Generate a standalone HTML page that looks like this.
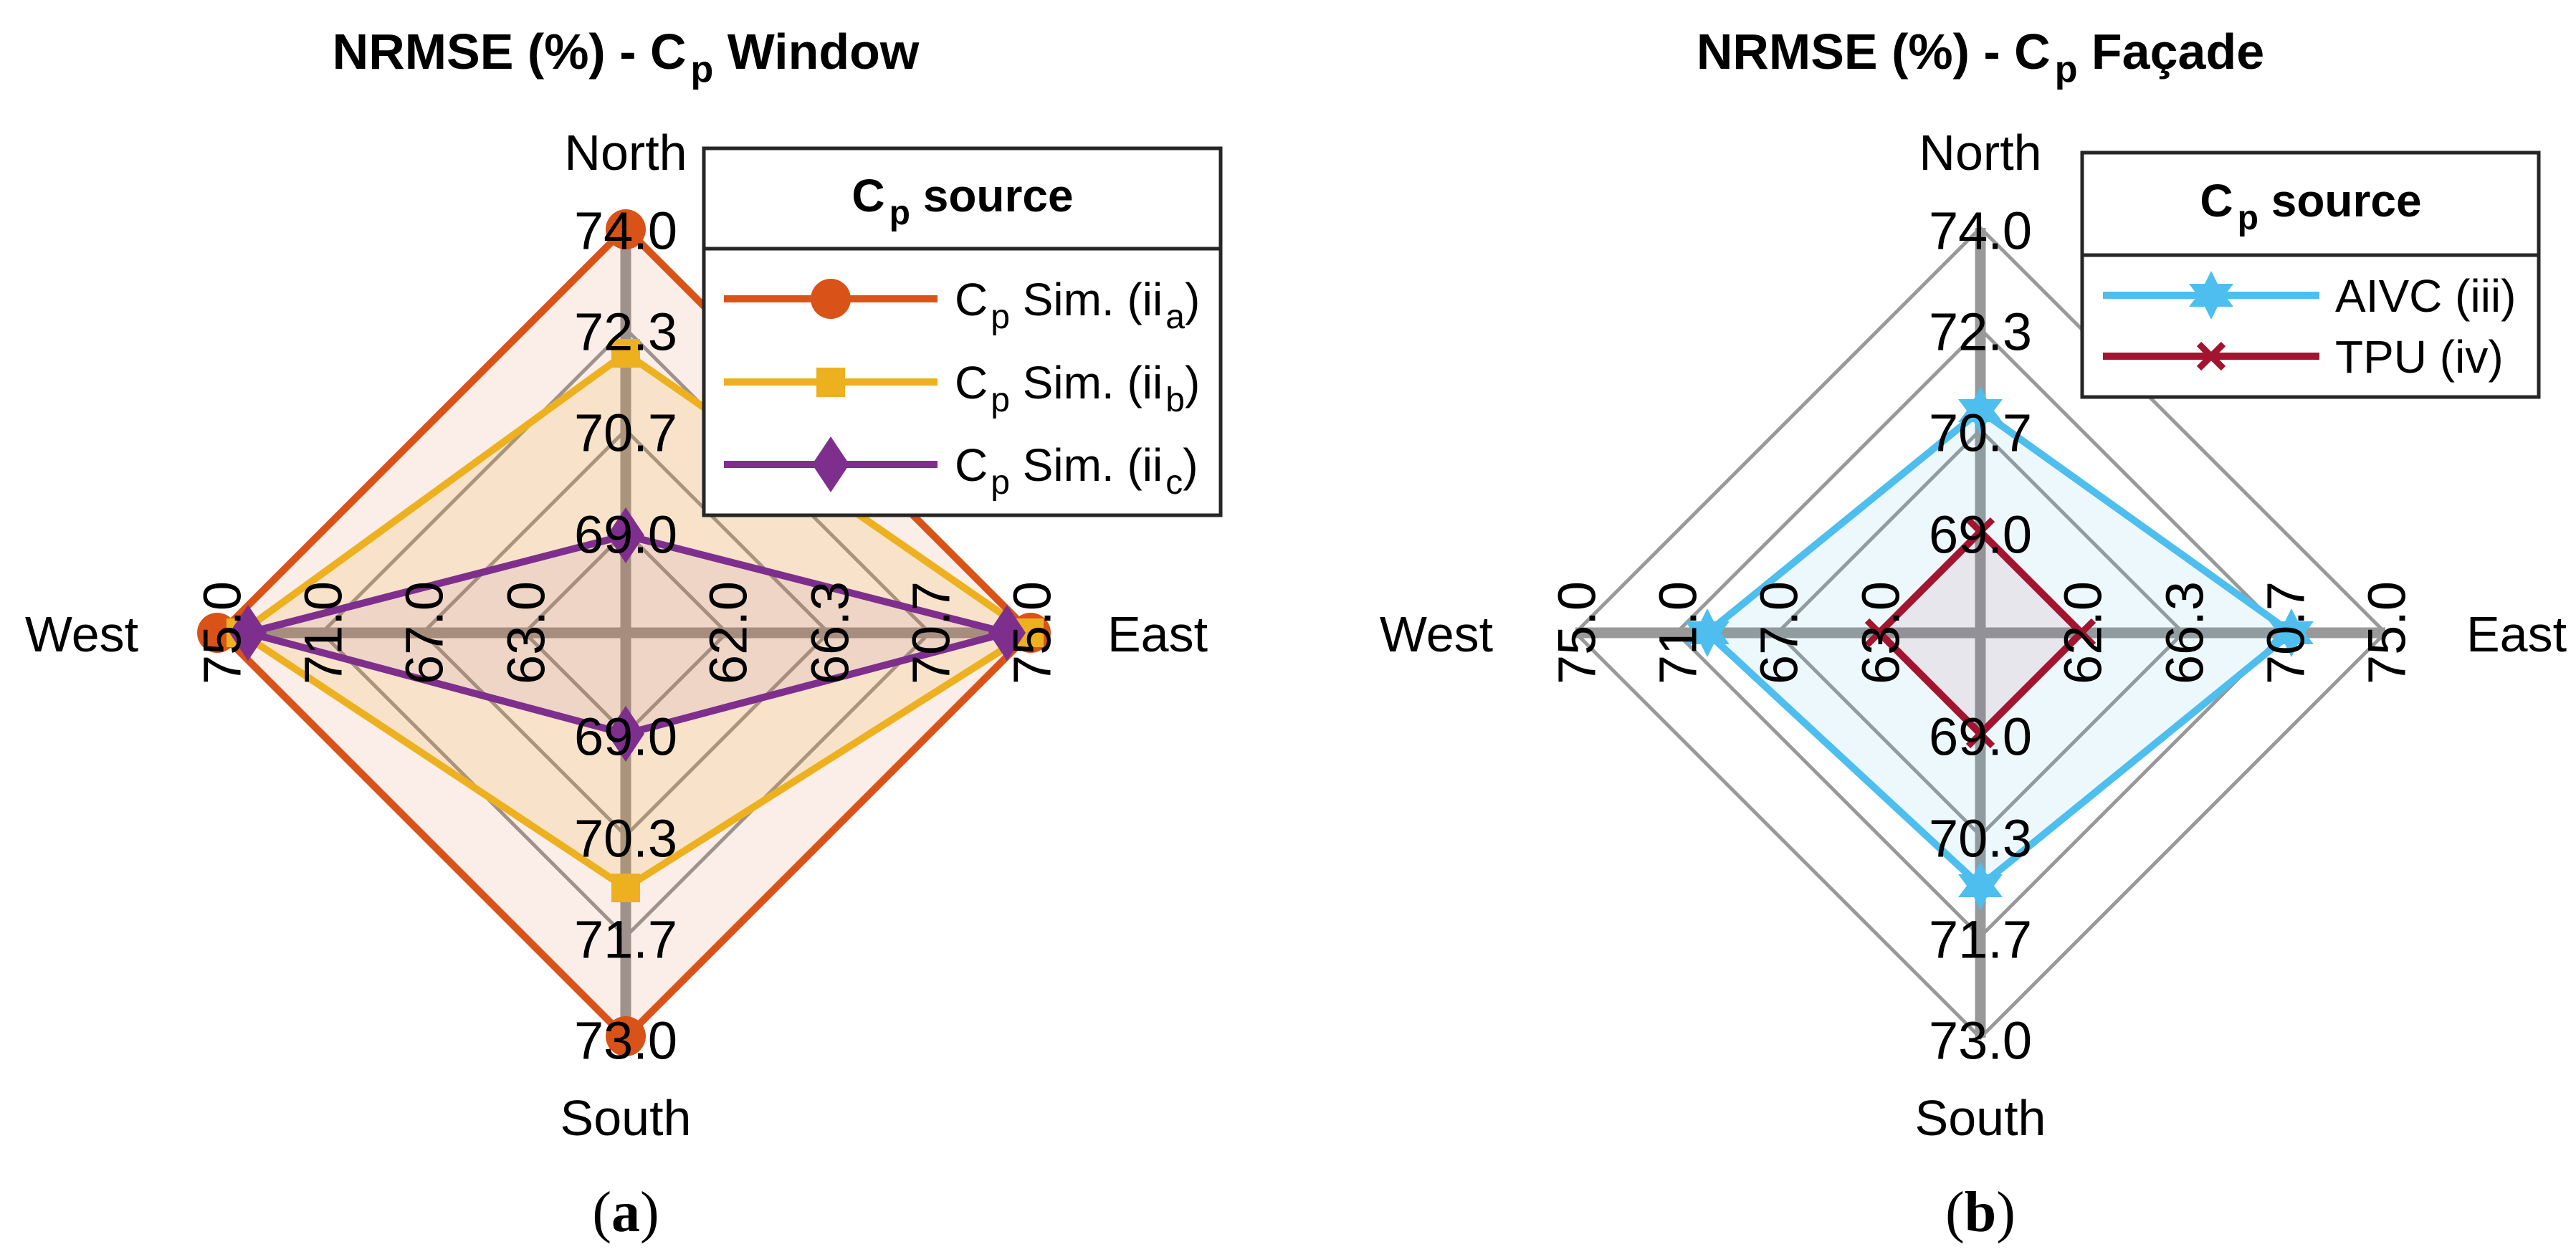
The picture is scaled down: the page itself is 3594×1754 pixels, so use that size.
<!DOCTYPE html>
<html><head><meta charset="utf-8"><style>
html,body{margin:0;padding:0;background:#fff}
svg{display:block}
text{font-family:"Liberation Sans",Arial,sans-serif;fill:#000}
.t{font-size:74px;text-anchor:middle;dominant-baseline:central}
.d{font-size:70px;text-anchor:middle;dominant-baseline:central}
.ti{font-size:70px;font-weight:bold;text-anchor:middle}
.lg{font-size:64px}
.cap{font-family:"Liberation Serif",serif;font-size:80px;text-anchor:middle}
</style></head><body>
<svg width="3594" height="1754" viewBox="0 0 3594 1754" xmlns="http://www.w3.org/2000/svg">
<g>
<g fill="none" stroke="#999" stroke-width="5">
<polygon points="873,318 1438,883 873,1448 308,883"/>
<polygon points="873,459 1297,883 873,1307 449,883"/>
<polygon points="873,600 1156,883 873,1166 590,883"/>
<polygon points="873,742 1014,883 873,1024 732,883"/>
</g>
<line x1="873" y1="318" x2="873" y2="1448" stroke="#999" stroke-width="15"/>
<line x1="308" y1="883" x2="1438" y2="883" stroke="#999" stroke-width="15"/>
<polygon points="873,318 1438,883 873,1448 308,883" fill="#D95319" fill-opacity="0.1"/>
<polygon points="873,493 1436,883 873,1239 336,883" fill="#EDB120" fill-opacity="0.15"/>
<polygon points="873,747 1405,883 873,1024 346,883" fill="#7E2F8E" fill-opacity="0.08"/>
<polygon points="873,318 1438,883 873,1448 308,883" fill="none" stroke="#D95319" stroke-width="10"/>
<polygon points="873,493 1436,883 873,1239 336,883" fill="none" stroke="#EDB120" stroke-width="10"/>
<polygon points="873,747 1405,883 873,1024 346,883" fill="none" stroke="#7E2F8E" stroke-width="10"/>
<g fill="#D95319"><circle cx="873" cy="320" r="28"/><circle cx="1438" cy="883" r="28"/><circle cx="873" cy="1446" r="28"/><circle cx="303" cy="883" r="28"/></g>
<g fill="#EDB120"><rect x="853" y="473" width="40" height="40"/><rect x="1416" y="863" width="40" height="40"/><rect x="853" y="1219" width="40" height="40"/><rect x="316" y="863" width="40" height="40"/></g>
<g fill="#7E2F8E">
<polygon points="873,708 899,747 873,786 847,747"/>
<polygon points="1405,844 1431,883 1405,922 1379,883"/>
<polygon points="873,985 899,1024 873,1063 847,1024"/>
<polygon points="346,844 372,883 346,922 320,883"/>
</g>
<text class="t" x="873" y="322">74.0</text>
<text class="t" x="873" y="463">72.3</text>
<text class="t" x="873" y="604">70.7</text>
<text class="t" x="873" y="746">69.0</text>
<text class="t" x="873" y="1028">69.0</text>
<text class="t" x="873" y="1170">70.3</text>
<text class="t" x="873" y="1311">71.7</text>
<text class="t" x="873" y="1452">73.0</text>
<text class="t" transform="translate(310,883) rotate(-90)">75.0</text>
<text class="t" transform="translate(451,883) rotate(-90)">71.0</text>
<text class="t" transform="translate(592,883) rotate(-90)">67.0</text>
<text class="t" transform="translate(734,883) rotate(-90)">63.0</text>
<text class="t" transform="translate(1016,883) rotate(-90)">62.0</text>
<text class="t" transform="translate(1158,883) rotate(-90)">66.3</text>
<text class="t" transform="translate(1299,883) rotate(-90)">70.7</text>
<text class="t" transform="translate(1440,883) rotate(-90)">75.0</text>
<text class="d" x="873" y="213">North</text>
<text class="d" x="873" y="1560">South</text>
<text class="d" x="114" y="885">West</text>
<text class="d" x="1615" y="885">East</text>
<text class="ti" x="873" y="96">NRMSE (%) - C<tspan font-size="52" dx="6" dy="18">p</tspan><tspan dy="-18"> Window</tspan></text>
<rect x="982" y="207" width="721" height="512" fill="#fff" stroke="#262626" stroke-width="5"/>
<line x1="982" y1="347" x2="1703" y2="347" stroke="#262626" stroke-width="5"/>
<text x="1343" y="295" font-size="64" font-weight="bold" text-anchor="middle">C<tspan font-size="48" dx="6" dy="18">p</tspan><tspan dy="-18"> source</tspan></text>
<line x1="1010" y1="417" x2="1308" y2="417" stroke="#D95319" stroke-width="10"/>
<circle cx="1159" cy="417" r="28" fill="#D95319"/>
<line x1="1010" y1="533" x2="1308" y2="533" stroke="#EDB120" stroke-width="10"/>
<rect x="1139" y="513" width="40" height="41" fill="#EDB120"/>
<line x1="1010" y1="648" x2="1308" y2="648" stroke="#7E2F8E" stroke-width="10"/>
<polygon points="1159,609 1185,648 1159,687 1133,648" fill="#7E2F8E"/>
<text class="lg" x="1332" y="440">C<tspan font-size="48" dx="4" dy="18">p</tspan><tspan dy="-18"> Sim. (ii</tspan><tspan font-size="48" dx="4" dy="18">a</tspan><tspan dy="-18">)</tspan></text>
<text class="lg" x="1332" y="556">C<tspan font-size="48" dx="4" dy="18">p</tspan><tspan dy="-18"> Sim. (ii</tspan><tspan font-size="48" dx="4" dy="18">b</tspan><tspan dy="-18">)</tspan></text>
<text class="lg" x="1332" y="671">C<tspan font-size="48" dx="4" dy="18">p</tspan><tspan dy="-18"> Sim. (ii</tspan><tspan font-size="48" dx="4" dy="18">c</tspan><tspan dy="-18">)</tspan></text>
<text class="cap" x="873" y="1718">(<tspan font-weight="bold">a</tspan>)</text>
</g>

<g>
<g fill="none" stroke="#999" stroke-width="5">
<polygon points="2763,318 3328,883 2763,1448 2198,883"/>
<polygon points="2763,459 3187,883 2763,1307 2339,883"/>
<polygon points="2763,600 3046,883 2763,1166 2480,883"/>
<polygon points="2763,742 2904,883 2763,1024 2622,883"/>
</g>
<line x1="2763" y1="318" x2="2763" y2="1448" stroke="#999" stroke-width="15"/>
<line x1="2198" y1="883" x2="3328" y2="883" stroke="#999" stroke-width="15"/>
<polygon points="2763,573 3197,883 2763,1236 2382,883" fill="#4DBEEE" fill-opacity="0.1"/>
<polygon points="2763,742 2904,883 2763,1024 2622,883" fill="#A2142F" fill-opacity="0.08"/>
<polygon points="2763,573 3197,883 2763,1236 2382,883" fill="none" stroke="#4DBEEE" stroke-width="10"/>
<polygon points="2763,742 2904,883 2763,1024 2622,883" fill="none" stroke="#A2142F" stroke-width="10"/>
<g fill="#4DBEEE">
<polygon transform="translate(2763,573)" points="0,-34 9,-16 31,-16 19,0 31,16 9,16 0,34 -9,16 -31,16 -19,0 -31,-16 -9,-16"/>
<polygon transform="translate(3197,883)" points="0,-34 9,-16 31,-16 19,0 31,16 9,16 0,34 -9,16 -31,16 -19,0 -31,-16 -9,-16"/>
<polygon transform="translate(2763,1236)" points="0,-34 9,-16 31,-16 19,0 31,16 9,16 0,34 -9,16 -31,16 -19,0 -31,-16 -9,-16"/>
<polygon transform="translate(2382,883)" points="0,-34 9,-16 31,-16 19,0 31,16 9,16 0,34 -9,16 -31,16 -19,0 -31,-16 -9,-16"/>
</g>
<g stroke="#A2142F" stroke-width="9">
<path d="M2746,725 l34,34 M2780,725 l-34,34"/>
<path d="M2887,866 l34,34 M2921,866 l-34,34"/>
<path d="M2746,1007 l34,34 M2780,1007 l-34,34"/>
<path d="M2605,866 l34,34 M2639,866 l-34,34"/>
</g>
<text class="t" x="2763" y="322">74.0</text>
<text class="t" x="2763" y="463">72.3</text>
<text class="t" x="2763" y="604">70.7</text>
<text class="t" x="2763" y="746">69.0</text>
<text class="t" x="2763" y="1028">69.0</text>
<text class="t" x="2763" y="1170">70.3</text>
<text class="t" x="2763" y="1311">71.7</text>
<text class="t" x="2763" y="1452">73.0</text>
<text class="t" transform="translate(2200,883) rotate(-90)">75.0</text>
<text class="t" transform="translate(2341,883) rotate(-90)">71.0</text>
<text class="t" transform="translate(2482,883) rotate(-90)">67.0</text>
<text class="t" transform="translate(2624,883) rotate(-90)">63.0</text>
<text class="t" transform="translate(2906,883) rotate(-90)">62.0</text>
<text class="t" transform="translate(3048,883) rotate(-90)">66.3</text>
<text class="t" transform="translate(3189,883) rotate(-90)">70.7</text>
<text class="t" transform="translate(3330,883) rotate(-90)">75.0</text>
<text class="d" x="2763" y="213">North</text>
<text class="d" x="2763" y="1560">South</text>
<text class="d" x="2004" y="885">West</text>
<text class="d" x="3511" y="885">East</text>
<text class="ti" x="2763" y="96">NRMSE (%) - C<tspan font-size="52" dx="6" dy="18">p</tspan><tspan dy="-18"> Façade</tspan></text>
<rect x="2905" y="213" width="637" height="341" fill="#fff" stroke="#262626" stroke-width="5"/>
<line x1="2905" y1="356" x2="3542" y2="356" stroke="#262626" stroke-width="5"/>
<text x="3224" y="302" font-size="64" font-weight="bold" text-anchor="middle">C<tspan font-size="48" dx="6" dy="18">p</tspan><tspan dy="-18"> source</tspan></text>
<line x1="2934" y1="412" x2="3236" y2="412" stroke="#4DBEEE" stroke-width="10"/>
<polygon transform="translate(3085,412)" points="0,-34 9,-16 31,-16 19,0 31,16 9,16 0,34 -9,16 -31,16 -19,0 -31,-16 -9,-16" fill="#4DBEEE"/>
<line x1="2934" y1="497" x2="3236" y2="497" stroke="#A2142F" stroke-width="10"/>
<path d="M3068,480 l34,34 M3102,480 l-34,34" stroke="#A2142F" stroke-width="9"/>
<text class="lg" x="3258" y="435">AIVC (iii)</text>
<text class="lg" x="3258" y="520">TPU (iv)</text>
<text class="cap" x="2763" y="1718">(<tspan font-weight="bold">b</tspan>)</text>
</g>
</svg>
</body></html>
